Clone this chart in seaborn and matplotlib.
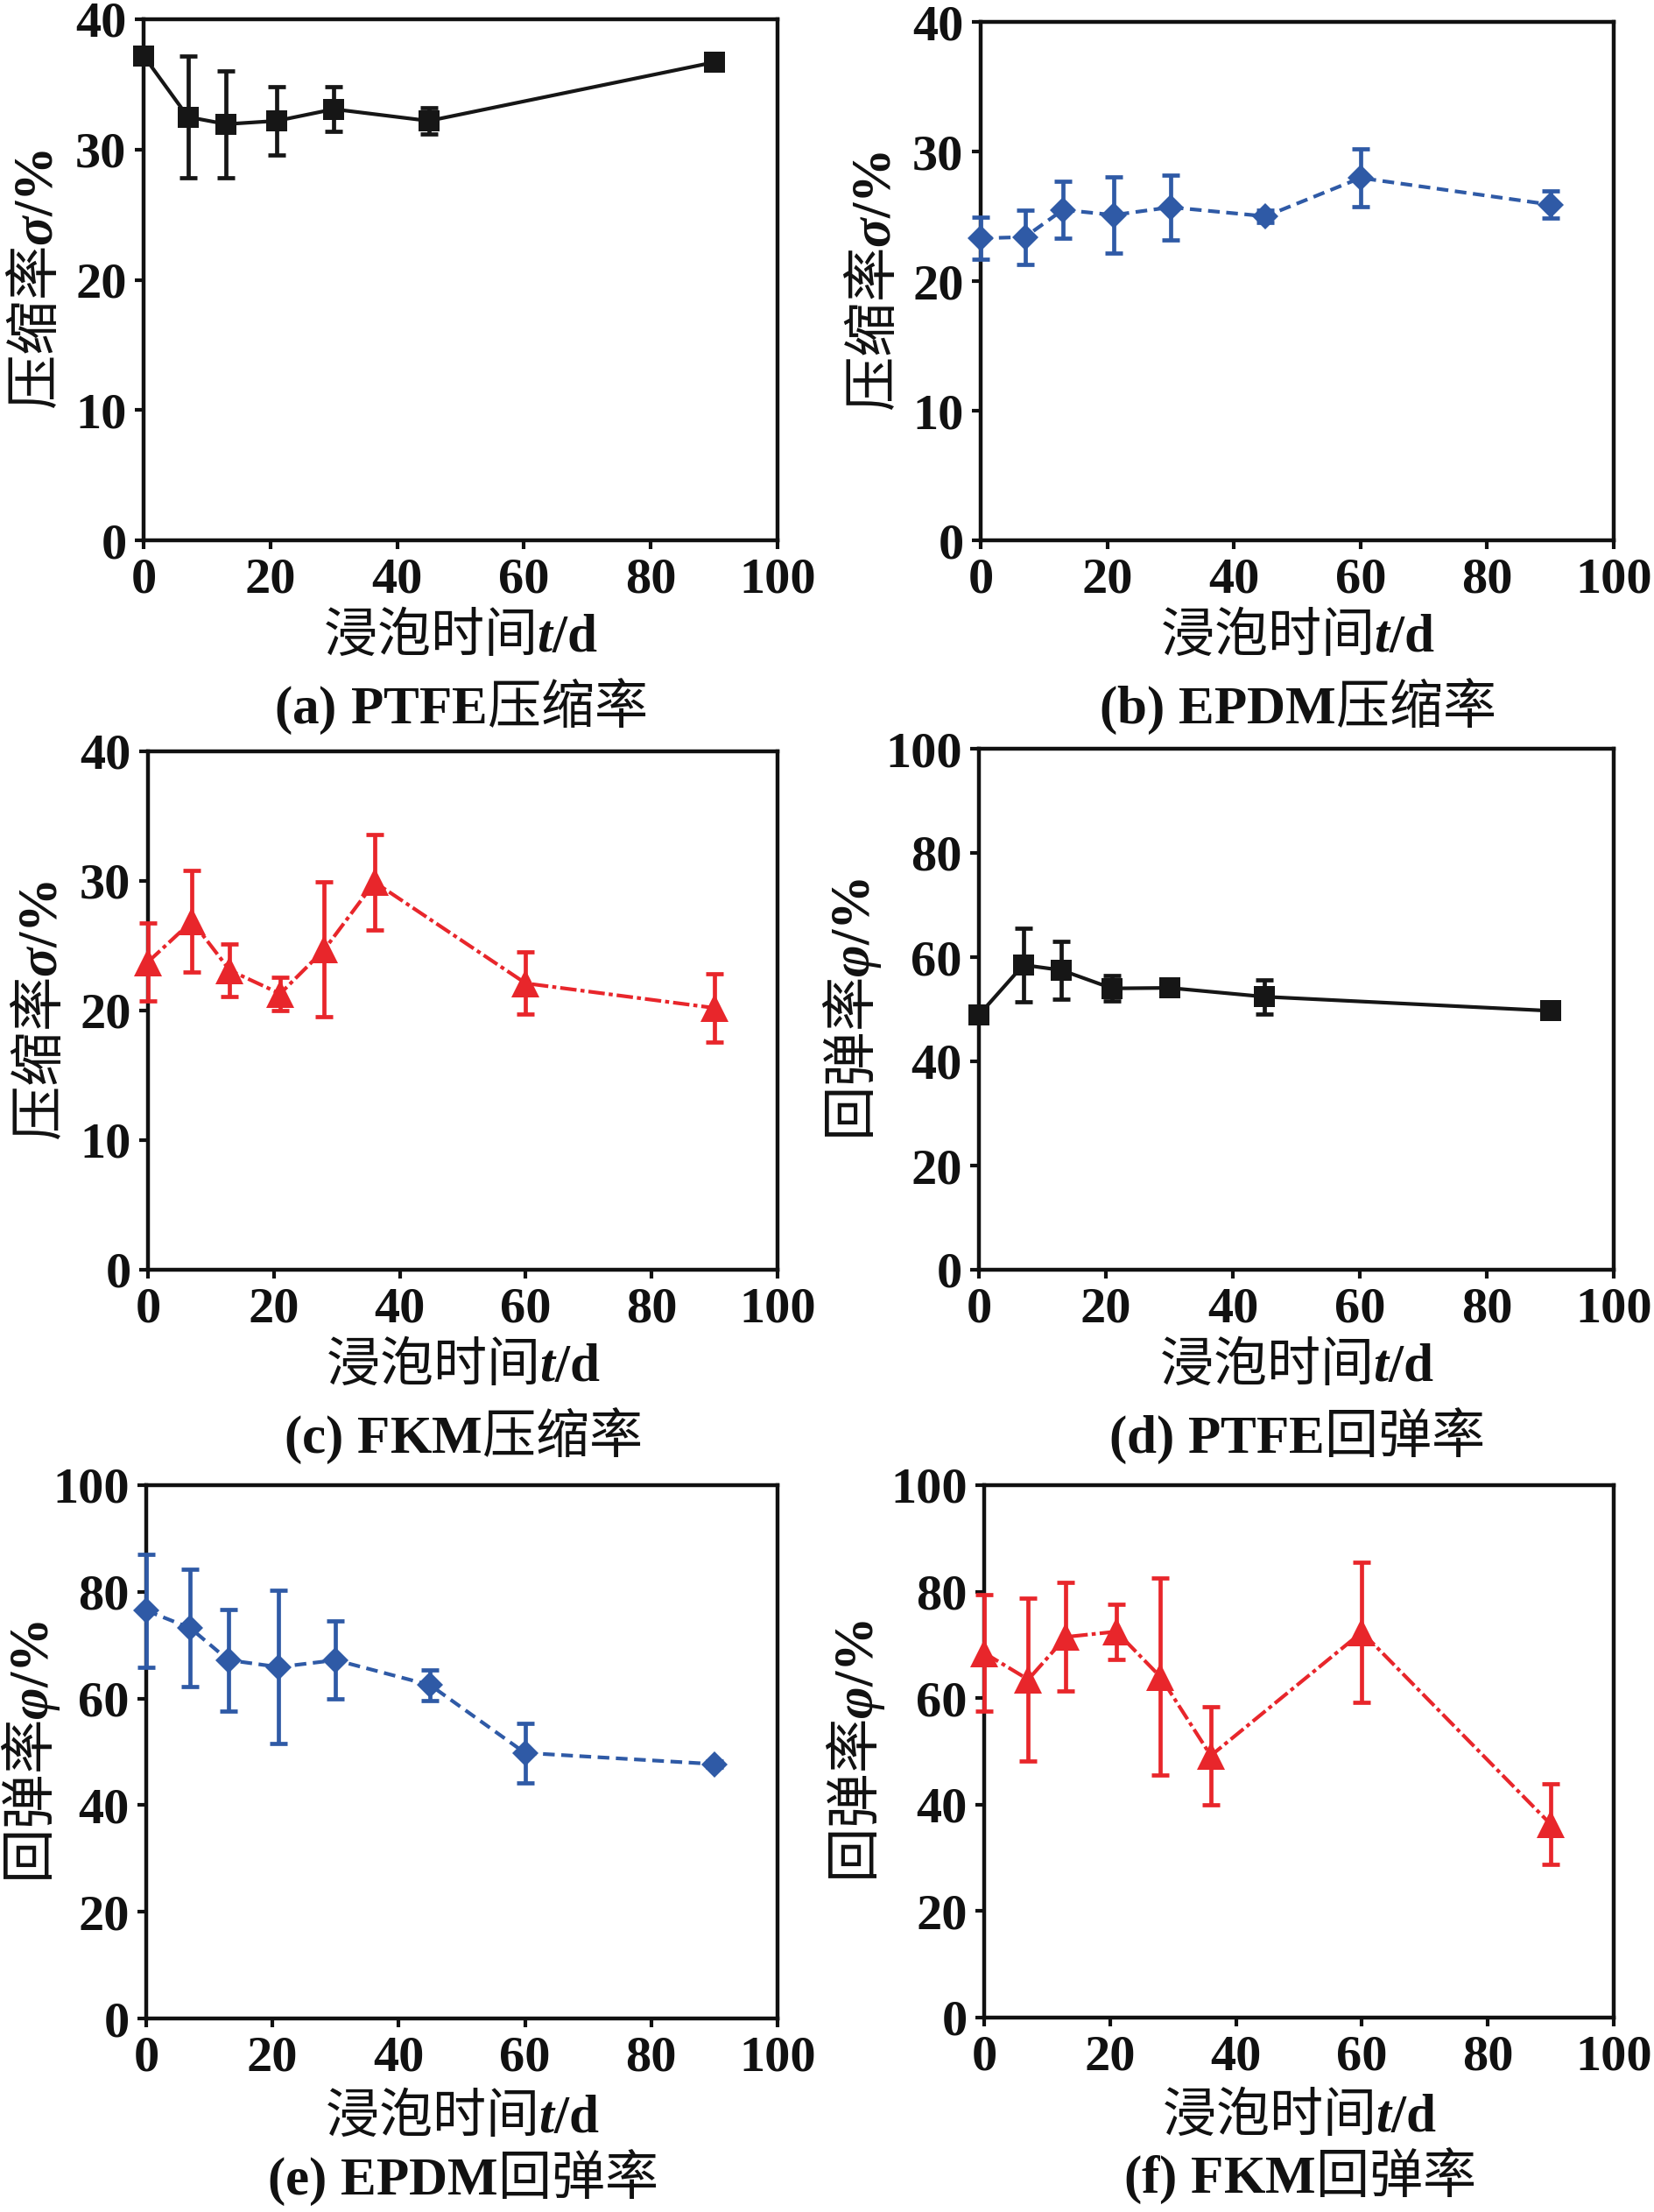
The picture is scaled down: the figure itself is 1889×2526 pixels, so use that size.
import matplotlib
matplotlib.use("Agg")
import matplotlib.pyplot as plt
import seaborn as sns

# 浸泡时间 t/d
days_ptfe = [0, 7, 13, 21, 30, 45, 90]
days_epdm = [0, 7, 13, 21, 30, 45, 60, 90]
days_fkm = [0, 7, 13, 21, 28, 36, 60, 90]

# 压缩率 sigma/%
ptfe_comp = [37.2, 32.5, 31.95, 32.2, 33.1, 32.2, 36.7]
ptfe_comp_err = [0.0, 4.7, 4.1, 2.6, 1.7, 1.0, 0.0]
epdm_comp = [23.3, 23.4, 25.5, 25.1, 25.7, 25.0, 27.96, 25.9]
epdm_comp_err = [1.6, 2.1, 2.2, 2.95, 2.5, 0.5, 2.25, 1.05]
fkm_comp = [23.75, 26.9, 23.1, 21.3, 24.7, 29.9, 22.1, 20.2]
fkm_comp_err = [3.0, 3.9, 2.05, 1.3, 5.2, 3.7, 2.4, 2.65]

# 回弹率 phi/%
ptfe_reb = [48.9, 58.5, 57.5, 54.0, 54.1, 52.4, 49.7]
ptfe_reb_err = [0.0, 7.0, 5.5, 2.4, 1.0, 3.3, 0.0]
epdm_reb = [76.5, 73.2, 67.2, 65.9, 67.2, 62.5, 49.8, 47.7]
epdm_reb_err = [10.6, 11.0, 9.5, 14.4, 7.3, 2.9, 5.6, 0.5]
fkm_reb = [68.5, 63.5, 71.5, 72.5, 64.0, 49.2, 72.4, 36.3]
fkm_reb_err = [10.9, 15.3, 10.2, 5.2, 18.5, 9.2, 13.2, 7.55]

sns.set_theme(style="ticks")
plt.rcParams["font.family"] = ["Liberation Serif", "Noto Sans CJK SC"]
plt.rcParams["font.weight"] = "bold"
plt.rcParams["mathtext.fontset"] = "custom"
plt.rcParams["mathtext.rm"] = "Liberation Serif:bold"
plt.rcParams["mathtext.bf"] = "Liberation Serif:bold"
plt.rcParams["mathtext.it"] = "Liberation Serif:italic:bold"

BLACK = "#161616"
BLUE = "#2f5aa6"
RED = "#e8262b"
CJK = "Noto Sans CJK SC"

W, H = 1889, 2526
fig = plt.figure(figsize=(W / 100, H / 100), dpi=100)


def make_ax(l, r, t, b):
    return fig.add_axes([l / W, 1 - b / H, (r - l) / W, (b - t) / H])


def panel(ax, days, vals, errs, color, marker, ms, ls, ymax, ystep,
          ylab, title, ylab_x, title_y=-0.32):
    eb = ax.errorbar(days, vals, yerr=errs, fmt="none", ecolor=color,
                     elinewidth=3.4, capsize=7.5, capthick=3.4, zorder=2)
    for art in eb.lines[1] + eb.lines[2]:
        art.set_clip_on(False)
    sns.lineplot(x=days, y=vals, ax=ax, color=color, marker=marker,
                 markersize=ms, markeredgewidth=0, linewidth=3.0,
                 linestyle=ls, zorder=3, clip_on=False)
    ax.set_xlim(0, 100)
    ax.set_ylim(0, ymax)
    ax.set_xticks(range(0, 101, 20))
    ax.set_yticks(range(0, ymax + 1, ystep))
    ax.tick_params(labelsize=42, length=7, width=3, pad=7, colors="#111111")
    for lab in ax.get_xticklabels() + ax.get_yticklabels():
        lab.set_fontweight("bold")
    for s in ax.spines.values():
        s.set_visible(True)
        s.set_linewidth(3.2)
        s.set_color("#111111")
        s.set_zorder(1)
    ax.set_xlabel("")
    ax.set_ylabel("")
    ax.text(0.5, -0.185, r"浸泡时间$t\mathbf{/d}$", transform=ax.transAxes,
            ha="center", va="center", fontsize=44, family=CJK,
            fontweight="normal", color="#111111")
    ax.text(0.5, title_y, title, transform=ax.transAxes, ha="center",
            va="center", fontsize=44, family=CJK, fontweight="normal",
            color="#111111")
    ax.text(ylab_x, 0.5, ylab, transform=ax.transAxes, rotation=90,
            ha="center", va="center", fontsize=45, family=CJK,
            fontweight="normal", color="#111111")


solid = "-"
dashed = (0, (3.2, 1.8))
dashdot = (0, (4.5, 1.1, 1.1, 1.1))
comp_lab = r"压缩率$\sigma\mathbf{/\%}$"
reb_lab = r"回弹率$\varphi\mathbf{/\%}$"

ax = make_ax(164, 888, 22, 617)
panel(ax, days_ptfe, ptfe_comp, ptfe_comp_err, BLACK, "s", 17, solid, 40, 10,
      comp_lab, r"$\mathbf{(a)\ PTFE}$压缩率", -0.168)

ax = make_ax(1120, 1843, 25, 617)
panel(ax, days_epdm, epdm_comp, epdm_comp_err, BLUE, "D", 15, dashed, 40, 10,
      comp_lab, r"$\mathbf{(b)\ EPDM}$压缩率", -0.167)

ax = make_ax(169, 888, 858, 1450)
panel(ax, days_fkm, fkm_comp, fkm_comp_err, RED, "^", 23, dashdot, 40, 10,
      comp_lab, r"$\mathbf{(c)\ FKM}$压缩率", -0.170)

ax = make_ax(1118, 1843, 855, 1450)
panel(ax, days_ptfe, ptfe_reb, ptfe_reb_err, BLACK, "s", 17, solid, 100, 20,
      reb_lab, r"$\mathbf{(d)\ PTFE}$回弹率", -0.200)

ax = make_ax(167, 888, 1696, 2305)
panel(ax, days_epdm, epdm_reb, epdm_reb_err, BLUE, "D", 15, dashed, 100, 20,
      reb_lab, r"$\mathbf{(e)\ EPDM}$回弹率", -0.183, title_y=-0.298)

ax = make_ax(1124, 1843, 1696, 2304)
panel(ax, days_fkm, fkm_reb, fkm_reb_err, RED, "^", 23, dashdot, 100, 20,
      reb_lab, r"$\mathbf{(f)\ FKM}$回弹率", -0.205, title_y=-0.298)

fig.savefig("out.png", dpi=100, facecolor="white")
